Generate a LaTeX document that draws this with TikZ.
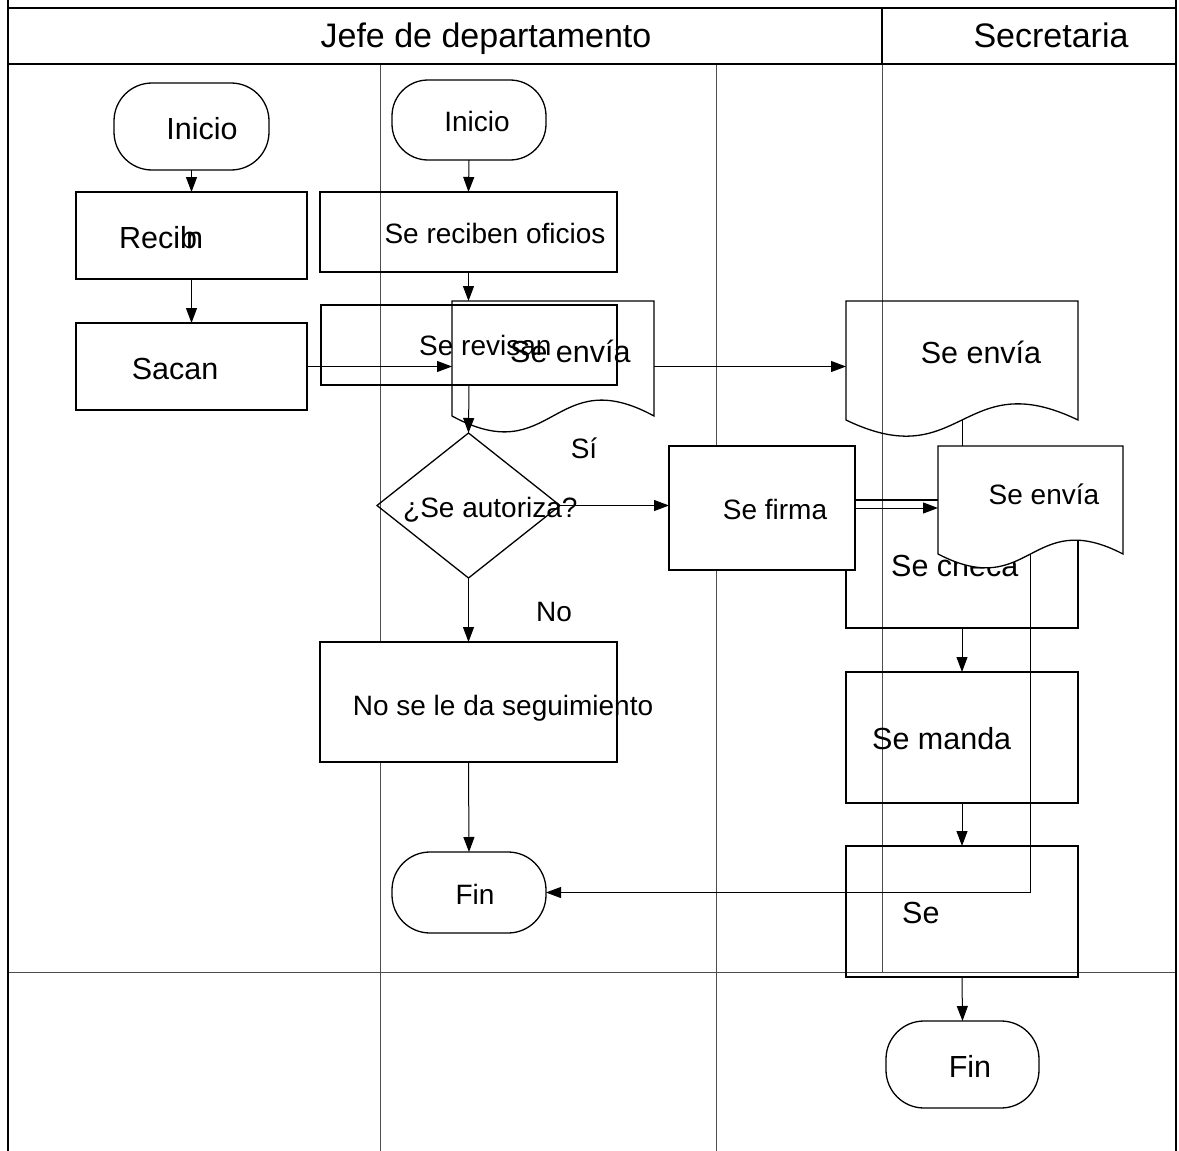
\documentclass[tikz,border=0pt]{standalone}
\usepackage{fontspec}
\setmainfont{Liberation Sans}
\usetikzlibrary{shapes.geometric,arrows.meta,calc}

% document symbol: flat top, wavy bottom edge (#3 = wave amplitude)
\newcommand\docoutline[3][]{%
  \draw[shp,#1] (#2.north west) -- (#2.north east) -- (#2.south east)
    .. controls ($(#2.south)+(0,-#3)$) and ($(#2.south)+(0,#3)$) .. (#2.south west) -- cycle;}

\begin{document}
\begin{tikzpicture}[x=1pt,y=-1pt,
  shp/.style={draw=black,line width=1.3pt},
  box/.style={shp,rectangle,inner sep=0pt,outer sep=0pt},
  term/.style={box,rounded corners=38pt},
  docbox/.style={rectangle,inner sep=0pt,outer sep=0pt},
  lane/.style={draw=black!70,line width=0.9pt},
  frame/.style={draw=black,line width=1.6pt},
  arr/.style={draw=black,line width=1pt,-{Triangle[length=15pt,width=11pt]}},
  tA/.style={inner sep=0pt,anchor=base,font=\fontsize{28}{32}\selectfont},
  tB/.style={inner sep=0pt,anchor=base,font=\fontsize{30.5}{34}\selectfont},
  tH/.style={inner sep=0pt,anchor=base,font=\fontsize{34}{38}\selectfont},
]
\fill[white] (0,0) rectangle (1179,1151);
\useasboundingbox (0,0) rectangle (1179,1151);

% swimlane grid
\draw[lane] (380,64) -- (380,1151);
\draw[lane] (716,64) -- (716,1151);
\draw[lane] (882,64) -- (882,972);
\draw[lane] (8,972) -- (1176,972);

% outer frame and header row
\draw[frame] (8,0) -- (8,1151);
\draw[frame] (1176,0) -- (1176,1151);
\draw[frame] (8,8) -- (1176,8);
\draw[frame] (8,64) -- (1176,64);
\draw[frame] (882,8) -- (882,64);
\node[tH] (hjefe) at (486,47) {Jefe de departamento};
\node[tH] (hsec) at (1051,47) {Secretaria};

% ---- left column
\node[term,minimum width=155pt,minimum height=87pt] (ini1) at (191.5,126.5) {};
\node[tB] (ini1t) at (202,139) {Inicio};
\node[box,minimum width=231pt,minimum height=87pt] (recib) at (191.5,235.5) {};
\node[tB,anchor=base west] (recibt) at (119,248) {Recib};
\node[tB,anchor=base west] (recibn) at (186,248) {n};
\node[box,minimum width=231pt,minimum height=87pt] (sacan) at (191.5,366.5) {};
\node[tB] (sacant) at (175,379) {Sacan};

% ---- middle column
\node[term,minimum width=154pt,minimum height=80pt,rounded corners=36pt] (ini2) at (469,120) {};
\node[tA] (ini2t) at (477,131) {Inicio};
\node[box,minimum width=297pt,minimum height=80pt] (recof) at (468.5,232) {};
\node[tA] (recoft) at (495,243) {Se reciben oficios};
\node[box,minimum width=296pt,minimum height=80pt] (revis) at (469,345) {};
\node[tA,anchor=base west] (revist) at (419,355) {Se revisan};
\node[docbox,minimum width=202pt,minimum height=115pt] (middoc) at (553,358.5) {};
\docoutline{middoc}{55}
\node[tB,anchor=base west] (middoct) at (510,362) {Se envía};
\node[shp,diamond,minimum width=183pt,minimum height=145pt,inner sep=0pt,outer sep=0pt] (dia) at (468.5,505.5) {};
\node[tA,anchor=base west] (diat) at (403,517) {¿Se autoriza?};
\node[tA] (si) at (584,458) {Sí};
\node[tA] (no) at (554,621) {No};
\node[term,minimum width=154pt,minimum height=81pt] (fin1) at (469,892.5) {};
\node[tA] (fin1t) at (475,904) {Fin};

% ---- right column
\node[docbox,minimum width=232pt,minimum height=119pt] (rdoc) at (962,360.5) {};
\docoutline{rdoc}{56}
\node[tB] (rdoct) at (981,363) {Se envía};
\node[box,minimum width=232pt,minimum height=128pt] (checa) at (962,564) {};
\node[tB,anchor=base west] (checat) at (891,576) {Se checa};
\node[box,minimum width=232pt,minimum height=131pt] (manda) at (962,737.5) {};
\node[tB,anchor=base west] (mandat) at (872,749) {Se manda};
\node[box,minimum width=232pt,minimum height=131pt] (sebox) at (962,911.5) {};
\node[tB,anchor=base west] (seboxt) at (902,923) {Se};
\node[term,minimum width=153pt,minimum height=87pt] (fin2) at (962.5,1064.5) {};
\node[tB] (fin2t) at (970,1077) {Fin};

% ---- connectors
\draw[arr] (ini1.south) -- (recib.north);
\draw[arr] (recib.south) -- (sacan.north);
\draw[arr] (sacan.east) -- (sacan.east -| middoc.west);
\draw[arr] (ini2.south) -- (recof.north);
\draw[arr] (recof.south) -- (recof.south |- middoc.north);
\draw[arr] (revis.south) -- (dia.north);
\draw[arr] (middoc.east |- sacan.east) -- (rdoc.west |- sacan.east);
\draw[arr] (rdoc.south) -- (checa.north);
\draw[arr] (dia.east) -- (dia.east -| 669,0);
\draw[arr] (dia.south) -- (dia.south |- 0,642);
\draw[arr] (checa.south) -- (manda.north);
\draw[arr] (manda.south) -- (sebox.north);
\draw[arr] (sebox.south) -- (fin2.north);

% ---- opaque shapes drawn over the rest
\node[box,fill=white,minimum width=297pt,minimum height=120pt] (noseg) at (468.5,702) {};
\node[tA] (nosegt) at (503,715) {No se le da seguimiento};
\draw[arr] (noseg.south) -- (fin1.north);
\node[docbox,minimum width=185pt,minimum height=108pt] (edoc) at (1030.5,500) {};
\draw[arr] (edoc.south) -- (edoc.south |- fin1.east) -- (fin1.east);
\docoutline[fill=white]{edoc}{48}
\node[tA] (edoct) at (1044,504) {Se envía};
\node[box,fill=white,minimum width=186pt,minimum height=124pt] (firma) at (762,508) {};
\node[tA] (firmat) at (775,519) {Se firma};
\draw[arr] (firma.east) -- (firma.east -| edoc.west);
\end{tikzpicture}
\end{document}
